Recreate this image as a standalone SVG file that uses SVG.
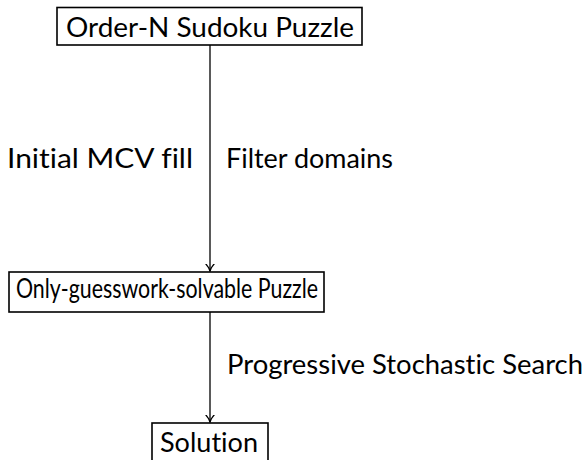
<svg xmlns="http://www.w3.org/2000/svg" width="588" height="460" viewBox="0 0 588 460">
  <style>
    .box { fill: #fff; stroke: #000; stroke-width: 1.6; }
    .lbl { font-family: Lato, "Liberation Sans", sans-serif; font-size: 26px; fill: #000; font-variant-ligatures: none; }
    .edge { stroke: #000; stroke-width: 1.3; fill: none; }
  </style>
  <defs>
    <marker id="arrow" viewBox="0 0 8 10" refX="7.5" refY="5" markerWidth="8" markerHeight="10" markerUnits="userSpaceOnUse" orient="auto">
      <path d="M0,0.5 Q4,4 7.5,5 Q4,6 0,9.5" fill="none" stroke="#000" stroke-width="1.3"/>
    </marker>
  </defs>
  <g id="connectors">
    <line class="edge" x1="210" y1="45" x2="210" y2="271" marker-end="url(#arrow)"/>
    <line class="edge" x1="210" y1="312" x2="210" y2="422" marker-end="url(#arrow)"/>
    <text class="lbl" x="7" y="168" textLength="186" lengthAdjust="spacingAndGlyphs">Initial MCV fill</text>
    <text class="lbl" x="226" y="168" textLength="167" lengthAdjust="spacingAndGlyphs">Filter domains</text>
    <text class="lbl" x="227" y="374" textLength="356" lengthAdjust="spacingAndGlyphs">Progressive Stochastic Search</text>
  </g>
  <g id="node-puzzle">
    <rect class="box" x="57" y="7.5" width="305" height="37.5"/>
    <text class="lbl" x="66" y="37" textLength="288" lengthAdjust="spacingAndGlyphs">Order-N Sudoku Puzzle</text>
  </g>
  <g id="node-guesswork">
    <rect class="box" x="9" y="272" width="315" height="40"/>
    <text class="lbl" x="16" y="298" textLength="302" lengthAdjust="spacingAndGlyphs">Only-guesswork-solvable Puzzle</text>
  </g>
  <g id="node-solution">
    <rect class="box" x="152" y="423" width="116" height="42"/>
    <text class="lbl" x="160" y="451.5" textLength="98" lengthAdjust="spacingAndGlyphs">Solution</text>
  </g>
</svg>
